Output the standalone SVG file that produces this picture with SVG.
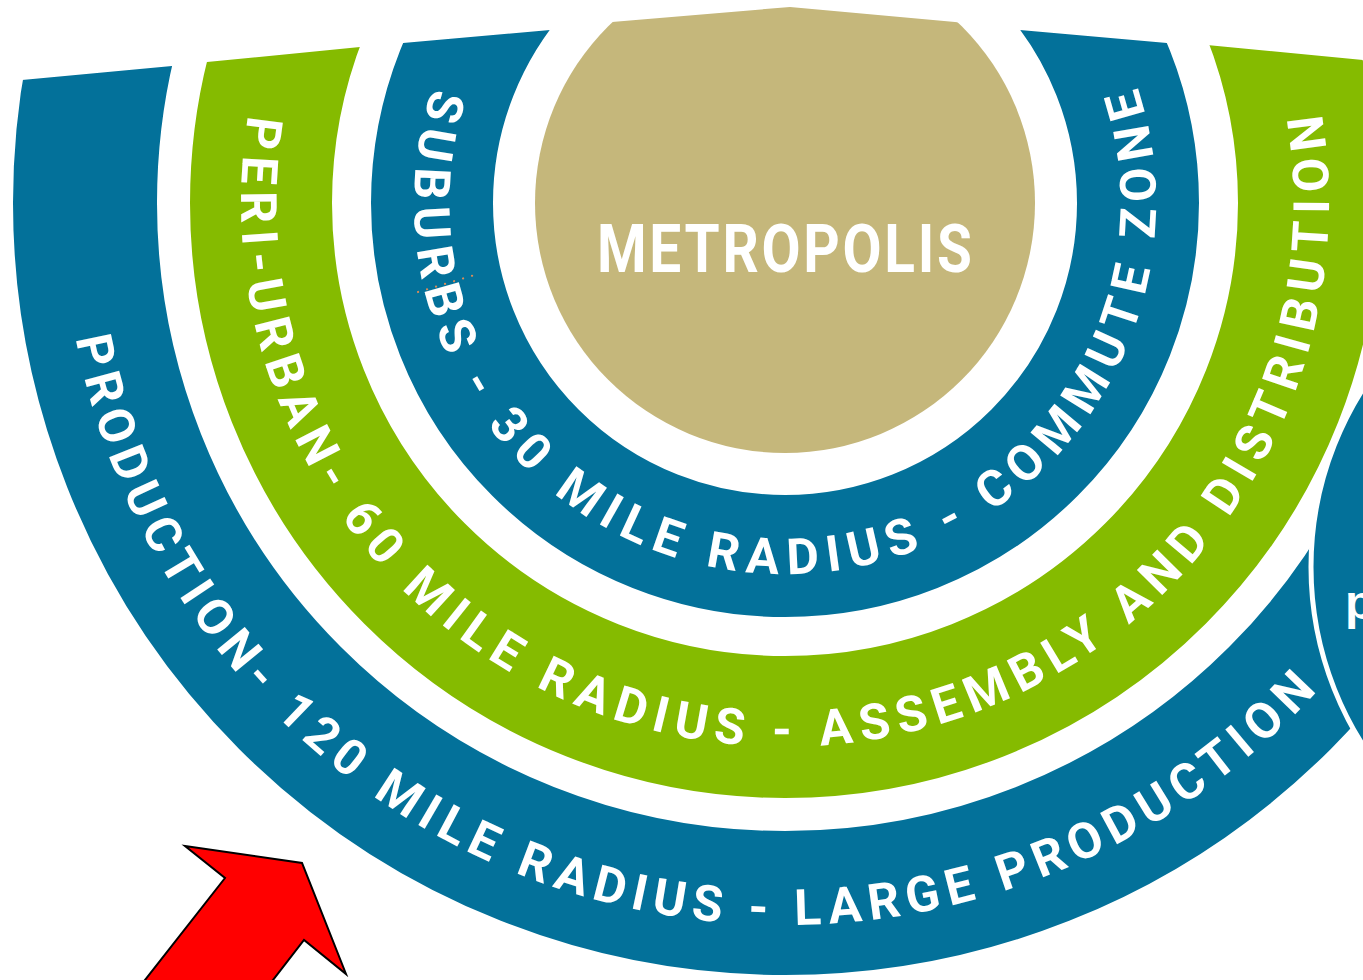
<svg xmlns="http://www.w3.org/2000/svg" width="1363" height="980" viewBox="0 0 1363 980">
<style>
.band{fill:none}
.blue{stroke:#03719A}
.green{stroke:#85BB00}
.ring{font-family:"Roboto","Liberation Sans",sans-serif;font-weight:bold;font-size:50px;fill:#FFFFFF}
.title{font-family:"Roboto","Liberation Sans",sans-serif;font-weight:bold;font-size:66px;fill:#FFFFFF}
</style>
<defs>
<clipPath id="topcut">
<polygon points="0,82 22,80 172,66 207,62 360,47 403,43 550,30 612,22 790,7 955,22 1020,30 1167,43 1207,45 1363,60 1363,980 0,980"/>
</clipPath>
<path id="p-outer" d="M75.8,338.3 A722,722 0 0 0 1317.3,690.8"/>
<path id="p-green" d="M248.1,115.1 A544,544 0 1 0 1321.9,115.1"/>
<path id="p-sub" d="M432.4,87.7 A371,371 0 1 0 1137.6,87.7"/>
</defs>
<rect width="1363" height="980" fill="#FFFFFF"/>
<g clip-path="url(#topcut)">
<g id="production">
<circle class="band blue" cx="785" cy="203" r="700" stroke-width="144"/>
<text class="ring"><textPath href="#p-outer" textLength="1596" lengthAdjust="spacing">PRODUCTION- 120 MILE RADIUS - LARGE PRODUCTION</textPath></text>
</g>
<g id="peri-urban">
<circle class="band green" cx="785" cy="203" r="524" stroke-width="142"/>
<text class="ring"><textPath href="#p-green" textLength="1886" lengthAdjust="spacing">PERI-URBAN- 60 MILE RADIUS - ASSEMBLY AND DISTRIBUTION</textPath></text>
</g>
<g id="suburbs">
<circle class="band blue" cx="785" cy="203" r="353" stroke-width="122"/>
<text class="ring"><textPath href="#p-sub" textLength="1400" lengthAdjust="spacing">SUBURBS - 30 MILE RADIUS - COMMUTE ZONE</textPath></text>
<line x1="418" y1="292" x2="478" y2="274" stroke="#D88C5A" stroke-width="2.2" stroke-linecap="round" stroke-dasharray="0.1 9.3"/>
</g>
<g id="metropolis">
<circle cx="785" cy="203" r="250" fill="#C5B77B"/>
<text class="title" transform="translate(597,272) scale(0.86,1)" x="0" y="0" textLength="436" lengthAdjust="spacing">METROPOLIS</text>
</g>
</g>
<g id="right-circle">
<circle cx="1642" cy="567" r="331" fill="#03719A" stroke="#FFFFFF" stroke-width="5"/>
<text x="1345" y="619" font-family="Liberation Sans, sans-serif" font-weight="bold" font-size="48" fill="#FFFFFF">p</text>
</g>
<g id="arrow">
<polygon points="185,846 302,863 346,974 304,940 257.5,1000 129.3,1000 225,878" fill="#FF0000" stroke="#000000" stroke-width="2" stroke-linejoin="miter"/>
</g>
</svg>
